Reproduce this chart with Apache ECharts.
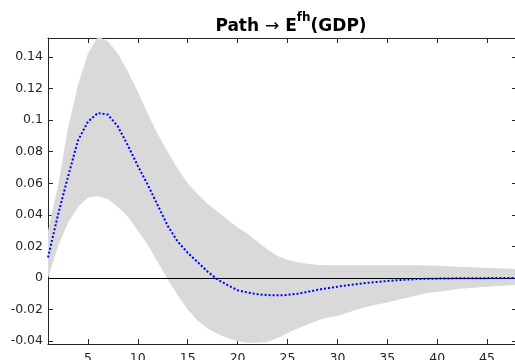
<!DOCTYPE html>
<html>
<head>
<meta charset="utf-8">
<script src="https://cdn.jsdelivr.net/npm/echarts@6/dist/echarts.min.js"></script>
<style>
    html, body { margin: 0; padding: 0; background: #fff; }
    #chart { width: 515px; height: 360px; }
</style>
</head>
<body>
<div id="chart"></div>
<script>
// horizon (quarters)
var categories = [1, 2, 3, 4, 5, 6, 7, 8, 9, 10, 11, 12, 13, 14, 15, 16, 17, 18, 19, 20, 21, 22, 23, 24,
    25, 26, 27, 28, 29, 30, 31, 32, 33, 34, 35, 36, 37, 38, 39, 40, 41, 42, 43, 44, 45, 46, 47, 48];
var xTicks = [5, 10, 15, 20, 25, 30, 35, 40, 45];
var yTicks = [-0.04, -0.02, 0, 0.02, 0.04, 0.06, 0.08, 0.1, 0.12, 0.14];

// median response
var median = [0.013, 0.040, 0.064, 0.087, 0.099, 0.1045, 0.1035, 0.096, 0.084, 0.071, 0.059, 0.046,
    0.033, 0.023, 0.016, 0.010, 0.004, -0.001, -0.0045, -0.0077, -0.0092, -0.0103, -0.0108, -0.011,
    -0.0107, -0.010, -0.0088, -0.0075, -0.0065, -0.0055, -0.0046, -0.0038, -0.0031, -0.0025, -0.0019,
    -0.0014, -0.0010, -0.0007, -0.0005, -0.0004, -0.0003, -0.0002, -0.0002, -0.0001, -0.0001, 0, 0, 0];
// credible band
var upper = [0.030, 0.058, 0.095, 0.122, 0.142, 0.153, 0.150, 0.142, 0.131, 0.118, 0.104, 0.091,
    0.080, 0.069, 0.060, 0.053, 0.047, 0.042, 0.037, 0.032, 0.028, 0.023, 0.018, 0.014,
    0.0115, 0.010, 0.009, 0.0083, 0.008, 0.008, 0.008, 0.008, 0.008, 0.008, 0.008, 0.008,
    0.008, 0.008, 0.0079, 0.0077, 0.0075, 0.0072, 0.007, 0.0067, 0.0064, 0.0062, 0.006, 0.0057];
var lower = [0.000, 0.020, 0.035, 0.045, 0.051, 0.052, 0.050, 0.045, 0.039, 0.030, 0.021, 0.010,
    -0.001, -0.011, -0.020, -0.027, -0.032, -0.0355, -0.038, -0.040, -0.041, -0.041, -0.0405, -0.038,
    -0.035, -0.032, -0.0295, -0.027, -0.025, -0.024, -0.022, -0.020, -0.018, -0.0168, -0.0155, -0.014,
    -0.0125, -0.011, -0.0095, -0.0088, -0.008, -0.007, -0.0065, -0.006, -0.0055, -0.005, -0.0047, -0.0044];

var bandWidth = upper.map(function (u, i) { return u - lower[i]; });

var axisColor = '#262626';
var font = 'DejaVu Sans, Liberation Sans, Arial, sans-serif';

function onTick(idx, val) {
    return xTicks.indexOf(Number(val)) >= 0;
}

var chart = echarts.init(document.getElementById('chart'));
chart.setOption({
    animation: false,
    backgroundColor: '#fff',
    title: {
        left: 286,
        top: 7,
        textAlign: 'center',
        text: '{a|Path }{r|\u2192}{a| E}{s|fh}{a|(GDP)}',
        textStyle: {
            rich: {
                a: { fontFamily: font, fontWeight: 'bold', fontSize: 17, color: '#000', lineHeight: 30 },
                r: { fontFamily: 'DejaVu Sans', fontWeight: 'normal', fontSize: 17, color: '#000', lineHeight: 30 },
                s: { fontFamily: font, fontWeight: 'bold', fontSize: 12, color: '#000', lineHeight: 12, verticalAlign: 'top' }
            }
        }
    },
    // plot box reaches past the right edge of the canvas, as in the reference
    grid: { left: 48, top: 38, width: 469, height: 306, outerBoundsMode: 'none', containLabel: false },
    xAxis: [{
        type: 'category',
        data: categories,
        boundaryGap: false,
        axisLine: { onZero: false, lineStyle: { color: axisColor, width: 1 } },
        axisTick: { inside: true, length: 5, interval: onTick, lineStyle: { color: axisColor } },
        axisLabel: { interval: onTick, margin: 8, color: axisColor, fontFamily: font, fontSize: 12.5 },
        splitLine: { show: false }
    }, {
        type: 'category',
        data: categories,
        position: 'top',
        boundaryGap: false,
        axisLine: { onZero: false, lineStyle: { color: axisColor, width: 1 } },
        axisTick: { inside: true, length: 5, interval: onTick, lineStyle: { color: axisColor } },
        axisLabel: { show: false },
        splitLine: { show: false }
    }],
    yAxis: [{
        type: 'value',
        min: -0.0418,
        max: 0.152,
        axisLine: { show: true, onZero: false, lineStyle: { color: axisColor, width: 1 } },
        axisTick: { show: true, inside: true, length: 5, customValues: yTicks, lineStyle: { color: axisColor } },
        axisLabel: {
            customValues: yTicks, margin: 5, color: axisColor, fontFamily: font, fontSize: 12.5,
            formatter: function (v) { return String(v); }
        },
        splitLine: { show: false }
    }, {
        type: 'value',
        position: 'right',
        min: -0.0418,
        max: 0.152,
        axisLine: { show: true, onZero: false, lineStyle: { color: axisColor, width: 1 } },
        axisTick: { show: true, inside: true, length: 5, customValues: yTicks, lineStyle: { color: axisColor } },
        axisLabel: { show: false },
        splitLine: { show: false }
    }],
    series: [{
        // band base
        type: 'line',
        data: lower,
        stack: 'band',
        stackStrategy: 'all',
        symbol: 'none',
        lineStyle: { opacity: 0 },
        silent: true
    }, {
        // band fill
        type: 'line',
        data: bandWidth,
        stack: 'band',
        stackStrategy: 'all',
        symbol: 'none',
        lineStyle: { opacity: 0 },
        areaStyle: { color: '#d9d9d9', opacity: 1 },
        silent: true
    }, {
        type: 'line',
        data: median,
        symbol: 'none',
        z: 5,
        lineStyle: { color: '#0000ff', width: 2, type: [2, 2] },
        markLine: {
            silent: true,
            symbol: ['none', 'none'],
            label: { show: false },
            lineStyle: { color: '#000', type: 'solid', width: 1 },
            data: [{ yAxis: 0 }]
        }
    }]
});
</script>
</body>
</html>
